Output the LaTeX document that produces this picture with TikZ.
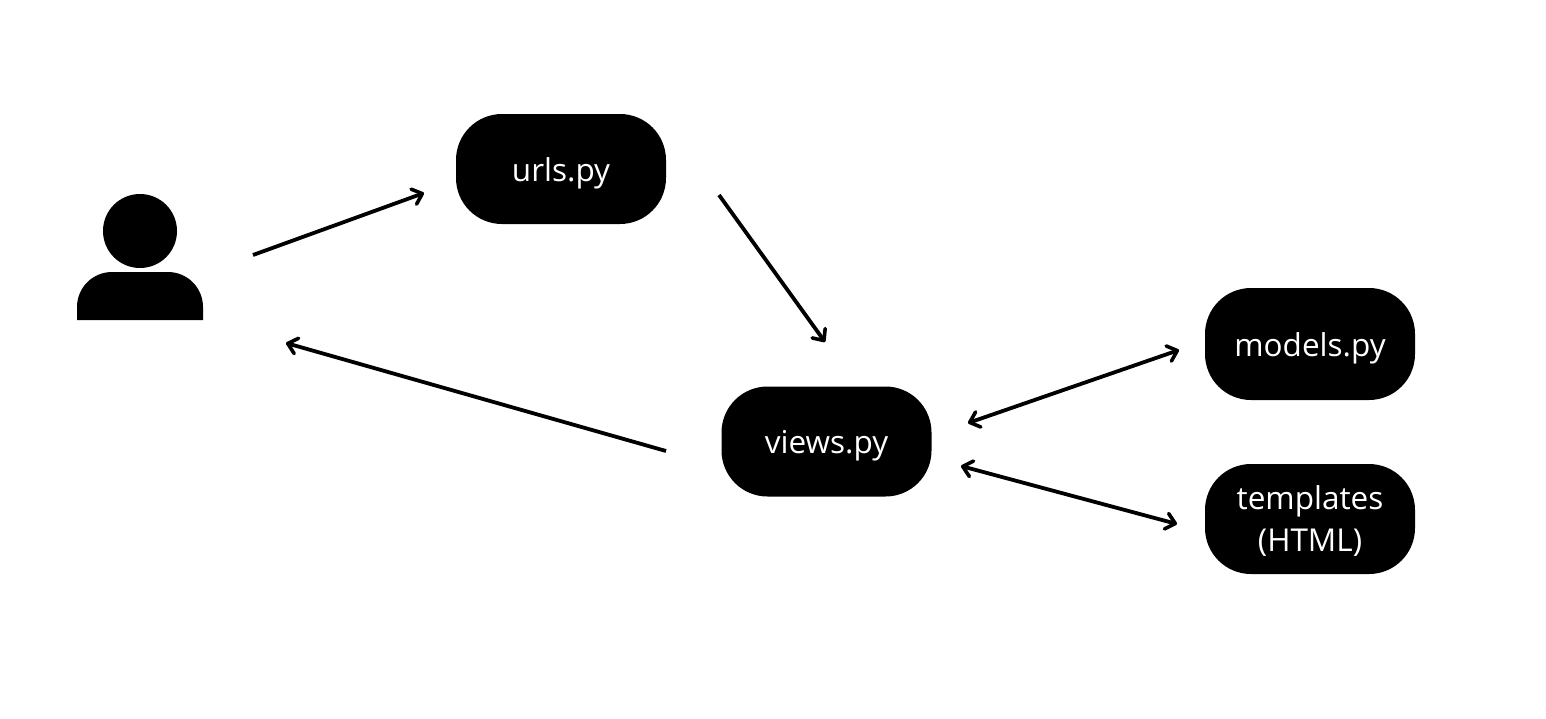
\documentclass[tikz,border=0pt]{standalone}
\usepackage{fontspec}
\setmainfont{Open Sans}
\usetikzlibrary{arrows.meta}

\begin{document}
\begin{tikzpicture}[x=1pt,y=-1pt,
    >={Straight Barb[length=9pt,width=16pt,line width=3.6pt,round]},
    file/.style = {fill=black, text=white, rounded corners=46pt, minimum width=210pt,
        minimum height=110pt, align=center, text height=24pt, text depth=0pt,
        font=\fontsize{31.5}{42}\selectfont},
    link/.style = {line width=3.8pt}]
\useasboundingbox (0,0) rectangle (1546,718);
\node[file] (urls) at (561,169) {urls.py};
\node[file] (views) at (826.5,441.5) {views.py};
\node[file, minimum height=112pt] (models) at (1310,344) {models.py};
\node[file, text height=64pt] (templates) at (1310,519) {templates\\(HTML)};
% user icon
\node[circle, fill=black, minimum size=74pt, inner sep=0pt] (head) at (140,231) {};
\fill (77,320) -- (77,307) arc[start angle=180, end angle=270, radius=35]
    -- (168,272) arc[start angle=270, end angle=360, radius=35] -- (203,320) -- cycle;
% free ends
\coordinate (userout) at (253,255);
\coordinate (userin) at (286,343);
\coordinate (urlsin) at (424,193);
\coordinate (urlsout) at (719,195);
\coordinate (viewsin) at (825,342);
\coordinate (viewsout) at (666,451);
\coordinate (viewsa) at (968,423);
\coordinate (viewsb) at (961,466);
\coordinate (modelsin) at (1179,350);
\coordinate (templatesin) at (1177,524);
\draw[link,->] (userout) -- (urlsin);
\draw[link,->] (urlsout) -- (viewsin);
\draw[link,->] (viewsout) -- (userin);
\draw[link,<->] (viewsa) -- (modelsin);
\draw[link,<->] (viewsb) -- (templatesin);
\end{tikzpicture}
\end{document}
